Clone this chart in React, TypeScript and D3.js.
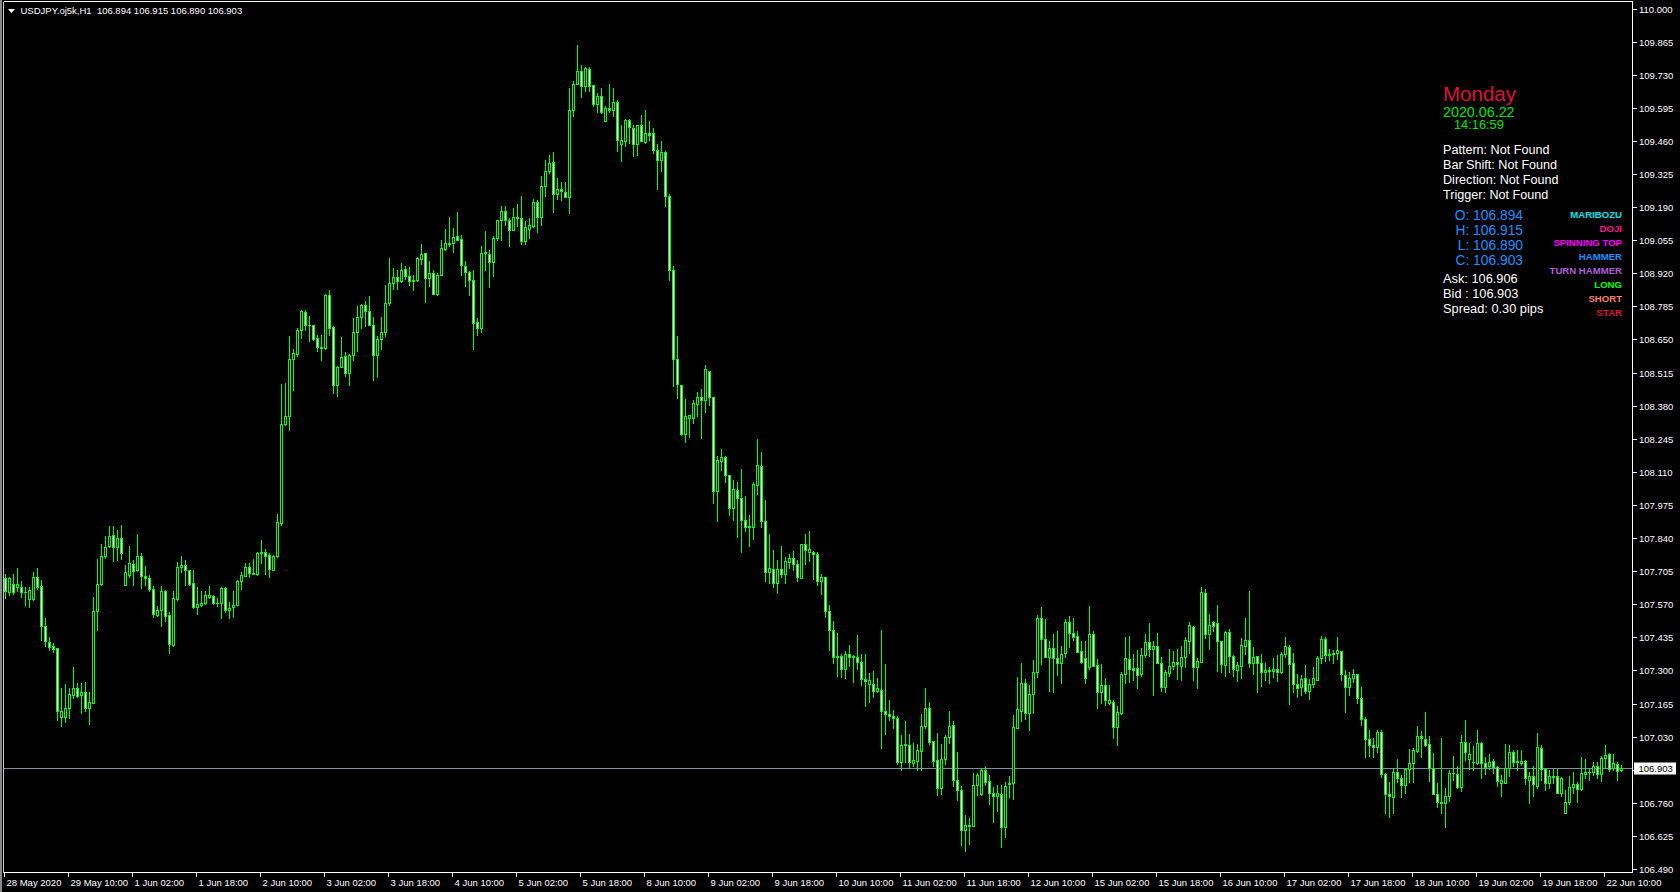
import React from 'react';
import * as d3 from 'd3';

// ---- Data: USDJPY H1 candles (28 May 2020 18:00 .. 22 Jun 2020 14:00) ----
const opens = [
107.677,107.618,107.653,107.642,107.642,107.620,107.591,107.592,107.681,107.645,
107.482,107.417,107.400,107.391,107.109,107.109,107.146,107.200,107.227,107.198,
107.211,107.146,107.169,107.542,107.652,107.765,107.806,107.851,107.803,107.840,
107.648,107.690,107.735,107.708,107.768,107.686,107.677,107.632,107.527,107.545,
107.625,107.527,107.402,107.591,107.720,107.730,107.709,107.656,107.557,107.568,
107.573,107.600,107.602,107.577,107.574,107.636,107.545,107.557,107.566,107.664,
107.687,107.721,107.697,107.694,107.781,107.783,107.772,107.711,107.765,107.901,
108.305,108.336,108.570,108.592,108.687,108.762,108.710,108.708,108.656,108.619,
108.615,108.833,108.701,108.463,108.537,108.581,108.513,108.585,108.679,108.742,
108.790,108.765,108.710,108.585,108.652,108.679,108.799,108.880,108.905,108.887,
108.938,108.908,108.894,108.891,108.979,109.003,108.901,108.921,108.835,108.911,
109.019,109.044,109.044,109.073,109.060,108.951,108.924,108.894,108.721,108.697,
109.003,109.000,108.965,109.064,109.136,109.175,109.139,109.095,109.150,109.146,
109.053,109.102,109.114,109.211,109.148,109.277,109.336,109.374,109.244,109.264,
109.252,109.230,109.584,109.690,109.747,109.683,109.755,109.686,109.611,109.645,
109.540,109.594,109.585,109.620,109.449,109.458,109.547,109.513,109.449,109.523,
109.454,109.492,109.492,109.424,109.381,109.416,109.237,108.932,108.570,108.464,
108.266,108.329,108.331,108.387,108.416,108.403,108.522,108.416,108.030,108.156,
108.171,108.098,107.963,108.036,108.005,107.915,107.890,107.886,108.056,108.133,
107.909,107.702,107.712,107.658,107.712,107.693,107.741,107.760,107.735,107.677,
107.816,107.783,107.783,107.776,107.664,107.681,107.542,107.465,107.355,107.359,
107.307,107.365,107.359,107.355,107.336,107.265,107.243,107.245,107.216,107.220,
107.133,107.124,107.114,107.104,106.925,106.994,106.994,106.921,106.931,106.973,
107.075,107.147,107.012,106.935,106.821,106.940,107.027,107.079,106.854,106.811,
106.651,106.671,106.667,106.834,106.797,106.892,106.848,106.800,106.786,106.795,
106.661,106.835,106.839,107.064,107.136,107.248,107.128,107.203,107.292,107.513,
107.427,107.356,107.391,107.350,107.332,107.370,107.497,107.452,107.441,107.380,
107.350,107.316,107.449,107.322,107.214,107.241,107.168,107.170,107.071,107.125,
107.286,107.346,107.310,107.308,107.284,107.363,107.415,107.386,107.400,107.332,
107.234,107.291,107.320,107.333,107.320,107.356,107.422,107.479,107.316,107.336,
107.615,107.447,107.496,107.492,107.420,107.322,107.456,107.360,107.302,107.320,
107.400,107.425,107.332,107.359,107.332,107.293,107.298,107.299,107.306,107.293,
107.367,107.395,107.329,107.244,107.231,107.268,107.218,107.244,107.261,107.350,
107.427,107.361,107.367,107.370,107.380,107.282,107.231,107.268,107.286,107.187,
107.101,107.019,106.996,106.987,107.050,106.878,106.795,106.785,106.887,106.860,
106.833,106.897,106.924,106.972,107.033,107.019,106.999,106.904,106.795,106.765,
106.761,106.788,106.880,106.876,106.826,107.007,106.938,106.925,106.921,107.003,
106.921,106.910,106.931,106.907,106.840,106.842,106.901,106.966,106.925,106.921,
106.931,106.853,106.870,106.830,106.982,106.897,106.842,106.869,106.869,106.799,
106.720,106.765,106.826,106.837,106.816,106.876,106.887,106.884,106.910,106.876,
106.942,106.959,106.901,106.918,106.894,
];

const highs = [
107.694,107.683,107.694,107.717,107.663,107.642,107.642,107.701,107.717,107.670,
107.513,107.438,107.411,107.391,107.227,107.245,107.227,107.316,107.248,107.248,
107.252,107.214,107.599,107.754,107.817,107.850,107.888,107.890,107.871,107.894,
107.731,107.806,107.751,107.856,107.779,107.727,107.690,107.643,107.563,107.645,
107.629,107.540,107.622,107.741,107.765,107.751,107.711,107.711,107.642,107.622,
107.626,107.645,107.606,107.595,107.640,107.642,107.578,107.625,107.670,107.700,
107.738,107.738,107.754,107.785,107.833,107.796,107.781,107.772,107.939,108.468,
108.472,108.666,108.611,108.697,108.772,108.772,108.744,108.710,108.670,108.670,
108.836,108.853,108.704,108.543,108.660,108.599,108.592,108.738,108.788,108.796,
108.805,108.826,108.741,108.663,108.741,108.874,108.983,108.942,108.932,108.962,
108.948,108.945,108.914,108.986,109.041,109.003,108.972,108.935,108.921,109.057,
109.101,109.150,109.105,109.169,109.078,108.971,108.928,108.932,108.737,109.033,
109.091,109.014,109.074,109.139,109.193,109.196,109.146,109.186,109.204,109.237,
109.132,109.146,109.223,109.220,109.318,109.384,109.404,109.415,109.309,109.291,
109.292,109.676,109.703,109.853,109.771,109.762,109.760,109.686,109.656,109.676,
109.604,109.694,109.676,109.626,109.526,109.550,109.550,109.523,109.526,109.567,
109.588,109.543,109.513,109.449,109.461,109.420,109.245,108.948,108.663,108.464,
108.406,108.341,108.403,108.435,108.449,108.545,108.522,108.416,108.175,108.204,
108.175,108.098,108.075,108.069,108.121,108.011,107.934,108.069,108.243,108.190,
107.996,107.857,107.793,107.751,107.808,107.761,107.776,107.789,107.751,107.816,
107.855,107.870,107.789,107.783,107.693,107.681,107.565,107.500,107.452,107.369,
107.378,107.403,107.361,107.446,107.365,107.365,107.288,107.297,107.268,107.465,
107.326,107.181,107.137,107.114,107.037,107.095,107.041,107.002,106.998,107.124,
107.230,107.172,107.012,107.045,106.998,107.037,107.133,107.095,106.969,106.829,
106.709,106.700,106.882,106.882,106.902,106.911,106.873,106.824,106.834,106.834,
106.844,106.869,107.118,107.275,107.329,107.264,107.241,107.343,107.527,107.557,
107.509,107.418,107.448,107.459,107.400,107.509,107.523,107.513,107.461,107.418,
107.418,107.561,107.461,107.346,107.325,107.271,107.241,107.180,107.155,107.295,
107.438,107.441,107.367,107.384,107.390,107.449,107.495,107.418,107.452,107.354,
107.302,107.386,107.380,107.386,107.400,107.438,107.497,107.482,107.350,107.639,
107.633,107.531,107.500,107.567,107.420,107.459,107.468,107.363,107.336,107.431,
107.513,107.624,107.395,107.359,107.367,107.332,107.313,107.350,107.363,107.377,
107.438,107.404,107.370,107.286,107.282,107.322,107.264,107.313,107.359,107.441,
107.438,107.386,107.384,107.438,107.380,107.302,107.295,107.306,107.286,107.231,
107.112,107.057,107.023,107.057,107.055,106.883,106.846,106.897,106.938,106.873,
106.901,106.978,106.982,107.074,107.053,107.132,107.033,106.965,106.840,107.026,
106.822,106.894,106.952,106.910,107.037,107.098,107.003,106.992,107.057,107.006,
106.946,106.958,106.938,106.910,106.874,107.000,106.996,106.976,106.976,106.976,
106.934,106.887,106.910,107.044,106.996,106.897,106.894,106.897,106.897,106.867,
106.812,106.870,106.887,106.846,106.946,106.938,106.901,106.928,106.925,106.951,
106.997,106.965,106.958,106.925,106.915,
];

const lows = [
107.595,107.609,107.613,107.622,107.599,107.568,107.557,107.588,107.633,107.425,
107.400,107.384,107.377,107.098,107.075,107.091,107.105,107.187,107.191,107.125,
107.133,107.080,107.166,107.463,107.650,107.757,107.803,107.745,107.751,107.754,
107.648,107.683,107.647,107.704,107.636,107.649,107.626,107.516,107.520,107.483,
107.502,107.373,107.400,107.588,107.701,107.649,107.649,107.554,107.530,107.561,
107.570,107.595,107.572,107.561,107.513,107.540,107.513,107.517,107.565,107.632,
107.686,107.681,107.694,107.688,107.738,107.694,107.681,107.708,107.762,107.894,
108.302,108.279,108.445,108.584,108.656,108.687,108.642,108.647,108.602,108.568,
108.612,108.670,108.433,108.421,108.537,108.502,108.465,108.565,108.601,108.696,
108.704,108.708,108.483,108.495,108.612,108.665,108.792,108.857,108.857,108.884,
108.897,108.873,108.850,108.887,108.959,108.801,108.869,108.835,108.833,108.911,
109.016,109.030,109.005,109.054,108.914,108.867,108.830,108.612,108.667,108.679,
108.935,108.863,108.910,109.055,109.055,109.118,109.030,109.095,109.114,109.041,
109.041,109.064,109.109,109.087,109.118,109.234,109.329,109.169,109.224,109.218,
109.230,109.166,109.561,109.690,109.638,109.665,109.665,109.601,109.577,109.574,
109.540,109.577,109.561,109.418,109.377,109.438,109.452,109.400,109.404,109.467,
109.452,109.465,109.411,109.265,109.336,109.196,108.891,108.459,108.411,108.262,
108.233,108.252,108.310,108.339,108.248,108.353,108.383,107.982,107.909,108.117,
108.069,107.934,107.915,107.843,107.784,107.870,107.809,107.838,108.021,107.886,
107.664,107.658,107.639,107.616,107.683,107.658,107.716,107.708,107.664,107.677,
107.735,107.747,107.674,107.650,107.612,107.519,107.384,107.330,107.278,107.272,
107.268,107.317,107.253,107.307,107.240,107.156,107.172,107.191,107.210,106.983,
107.041,107.099,107.066,106.917,106.892,106.925,106.902,106.912,106.892,106.892,
107.066,106.998,106.912,106.790,106.796,106.917,107.002,106.829,106.771,106.589,
106.565,106.594,106.667,106.790,106.790,106.834,106.757,106.680,106.728,106.578,
106.622,106.785,106.777,107.064,107.095,107.101,107.057,107.128,107.275,107.325,
107.357,107.218,107.214,107.282,107.250,107.354,107.397,107.424,107.377,107.332,
107.248,107.305,107.320,107.146,107.169,107.159,107.163,107.026,106.996,107.122,
107.248,107.254,107.259,107.227,107.278,107.354,107.357,107.200,107.332,107.218,
107.210,107.278,107.305,107.265,107.261,107.315,107.370,107.261,107.227,107.333,
107.431,107.388,107.459,107.299,107.295,107.277,107.295,107.278,107.255,107.268,
107.367,107.316,107.286,107.210,107.236,107.261,107.248,107.272,107.257,107.291,
107.354,107.163,107.214,107.191,107.200,107.207,107.184,107.234,107.259,107.332,
107.340,107.343,107.332,107.346,107.259,107.132,107.200,107.251,107.166,107.078,
106.948,106.951,106.948,106.969,106.864,106.720,106.701,106.717,106.846,106.785,
106.802,106.846,106.846,106.969,106.946,106.992,106.850,106.795,106.742,106.720,
106.663,106.769,106.853,106.822,106.810,106.935,106.897,106.894,106.918,106.863,
106.877,106.897,106.883,106.829,106.788,106.840,106.870,106.910,106.894,106.914,
106.837,106.761,106.788,106.819,106.853,106.812,106.819,106.840,106.799,106.788,
106.717,106.755,106.799,106.765,106.812,106.860,106.853,106.874,106.863,106.850,
106.908,106.891,106.894,106.853,106.890,
];

const closes = [
107.622,107.677,107.618,107.653,107.618,107.619,107.629,107.681,107.642,107.483,
107.418,107.397,107.388,107.136,107.136,107.146,107.205,107.227,107.196,107.211,
107.146,107.170,107.543,107.653,107.768,107.803,107.847,107.803,107.840,107.779,
107.701,107.738,107.706,107.768,107.686,107.675,107.632,107.530,107.547,107.625,
107.524,107.407,107.595,107.723,107.731,107.708,107.652,107.558,107.572,107.576,
107.608,107.608,107.577,107.574,107.636,107.545,107.553,107.567,107.666,107.690,
107.721,107.697,107.695,107.781,107.783,107.765,107.713,107.768,107.905,108.305,
108.339,108.572,108.595,108.690,108.765,108.710,108.710,108.653,108.619,108.614,
108.833,108.697,108.463,108.538,108.577,108.513,108.588,108.680,108.742,108.792,
108.765,108.708,108.585,108.652,108.680,108.799,108.880,108.905,108.887,108.935,
108.908,108.887,108.887,108.982,109.000,108.901,108.921,108.835,108.914,109.023,
109.044,109.041,109.068,109.057,108.954,108.924,108.891,108.717,108.697,109.003,
109.008,108.965,109.064,109.139,109.175,109.136,109.098,109.150,109.146,109.053,
109.109,109.118,109.211,109.148,109.277,109.336,109.370,109.244,109.264,109.254,
109.230,109.584,109.692,109.747,109.683,109.758,109.683,109.611,109.645,109.577,
109.594,109.585,109.620,109.463,109.465,109.547,109.516,109.449,109.523,109.458,
109.492,109.485,109.422,109.381,109.416,109.234,108.932,108.570,108.468,108.266,
108.339,108.341,108.391,108.416,108.403,108.528,108.416,108.030,108.160,108.171,
108.098,107.963,108.040,108.002,107.915,107.886,107.886,108.060,108.137,107.909,
107.702,107.716,107.658,107.712,107.693,107.745,107.760,107.735,107.683,107.816,
107.793,107.797,107.776,107.664,107.681,107.544,107.465,107.355,107.359,107.307,
107.365,107.355,107.355,107.336,107.265,107.257,107.259,107.218,107.230,107.133,
107.122,107.114,107.104,106.925,106.994,106.998,106.925,106.935,106.975,107.075,
107.147,107.008,106.931,106.819,106.940,107.027,107.075,106.854,106.811,106.651,
106.671,106.665,106.834,106.872,106.892,106.844,106.800,106.786,106.800,106.661,
106.830,106.839,107.068,107.142,107.248,107.128,107.203,107.292,107.513,107.427,
107.356,107.391,107.350,107.332,107.366,107.497,107.452,107.438,107.377,107.336,
107.271,107.449,107.320,107.214,107.241,107.180,107.180,107.071,107.129,107.286,
107.350,107.305,107.300,107.282,107.363,107.415,107.386,107.400,107.332,107.234,
107.293,107.318,107.333,107.325,107.356,107.425,107.486,107.316,107.339,107.619,
107.447,107.486,107.483,107.418,107.325,107.456,107.357,107.306,107.322,107.404,
107.425,107.332,107.354,107.332,107.295,107.303,107.303,107.306,107.293,107.367,
107.400,107.327,107.244,107.227,107.264,107.218,107.244,107.268,107.350,107.427,
107.361,107.367,107.370,107.384,107.284,107.231,107.268,107.286,107.187,107.101,
107.019,106.996,106.987,107.050,106.878,106.795,106.788,106.887,106.860,106.833,
106.897,106.924,106.976,107.033,107.023,106.996,106.904,106.795,106.762,106.761,
106.788,106.880,106.883,106.826,107.007,106.966,106.959,106.926,107.003,106.924,
106.907,106.925,106.907,106.850,106.853,106.901,106.966,106.925,106.931,106.931,
106.860,106.870,106.836,106.986,106.897,106.842,106.869,106.867,106.799,106.860,
106.765,106.826,106.837,106.816,106.880,106.887,106.884,106.910,106.876,106.942,
106.955,106.897,106.921,106.891,106.903,
];

const timeLabels = [
  '28 May 2020', '29 May 10:00', '1 Jun 02:00', '1 Jun 18:00', '2 Jun 10:00',
  '3 Jun 02:00', '3 Jun 18:00', '4 Jun 10:00', '5 Jun 02:00', '5 Jun 18:00',
  '8 Jun 10:00', '9 Jun 02:00', '9 Jun 18:00', '10 Jun 10:00', '11 Jun 02:00',
  '11 Jun 18:00', '12 Jun 10:00', '15 Jun 02:00', '15 Jun 18:00', '16 Jun 10:00',
  '17 Jun 02:00', '17 Jun 18:00', '18 Jun 10:00', '19 Jun 02:00', '19 Jun 18:00',
  '22 Jun 10:00',
];
const barsPerLabel = 16;

const priceTicks = [
  '110.000', '109.865', '109.730', '109.595', '109.460', '109.325', '109.190',
  '109.055', '108.920', '108.785', '108.650', '108.515', '108.380', '108.245',
  '108.110', '107.975', '107.840', '107.705', '107.570', '107.435', '107.300',
  '107.165', '107.030', '106.895', '106.760', '106.625', '106.490',
];
const hiddenTick = '106.895';

const symbolHeader = 'USDJPY.oj5k,H1  106.894 106.915 106.890 106.903';
const lastPrice = 106.903;

const infoLines = ['Pattern: Not Found', 'Bar Shift: Not Found', 'Direction: Not Found', 'Trigger: Not Found'];
const ohlcLines = ['O: 106.894', 'H: 106.915', 'L: 106.890', 'C: 106.903'];
const quoteLines = ['Ask: 106.906', 'Bid : 106.903', 'Spread: 0.30 pips'];
const patternNames = ['MARIBOZU', 'DOJI', 'SPINNING TOP', 'HAMMER', 'TURN HAMMER', 'LONG', 'SHORT', 'STAR'];
const patternColors = ['#00E5EE', '#FF1493', '#FF00FF', '#1E90FF', '#B060D8', '#00FF00', '#FA8072', '#DC143C'];

const W = 1680;
const H = 892;
const FRAME = { left: 3.5, top: 1.5, right: 1632.5, bottom: 872.5 };
const AXIS_FONT = '"Liberation Sans", Arial, sans-serif';

export default function App() {
  const n = closes.length;
  const x = d3.scaleLinear().domain([0, n - 1]).range([5.5, 5.5 + 4 * (n - 1)]);
  const y = d3.scaleLinear().domain([106.49, 110.0]).range([869, 8.5]);
  const lime = '#00FF00';
  const snap = (v: number) => Math.round(v) + 0.5;

  const candles = d3.range(n).map((i) => {
    const o = opens[i], c = closes[i], h = highs[i], l = lows[i];
    const cx = x(i);
    const yTop = snap(y(Math.max(o, c)));
    const yBot = snap(y(Math.min(o, c)));
    const bear = c < o;
    return (
      <g key={i}>
        <line x1={cx} x2={cx} y1={Math.round(y(h))} y2={Math.round(y(l)) + 1} stroke={lime} strokeWidth={1} />
        {yBot - yTop < 1 ? (
          <line x1={cx - 1.5} x2={cx + 1.5} y1={yTop} y2={yTop} stroke={lime} strokeWidth={1} />
        ) : (
          <rect x={cx - 1} y={yTop} width={2} height={yBot - yTop} fill={bear ? '#FFFFFF' : '#000000'} stroke={lime} strokeWidth={1} />
        )}
      </g>
    );
  });

  const yLast = snap(y(lastPrice));

  return (
    <svg width={W} height={H} style={{ position: 'fixed', left: 0, top: 0, background: '#000' }} xmlns="http://www.w3.org/2000/svg">
      <rect x={0} y={0} width={W} height={H} fill="#000" />
      <rect x={0} y={0} width={2} height={H} fill="#8a8a8a" />

      {/* bid line */}
      <line x1={FRAME.left} x2={FRAME.right} y1={yLast} y2={yLast} stroke="#7f8fa0" strokeWidth={1} />

      {/* candles */}
      <g shapeRendering="crispEdges">{candles}</g>

      {/* frame */}
      <g stroke="#FFFFFF" strokeWidth={1} shapeRendering="crispEdges" fill="none">
        <line x1={FRAME.left} x2={FRAME.right} y1={FRAME.top} y2={FRAME.top} />
        <line x1={FRAME.left} x2={FRAME.left} y1={FRAME.top} y2={FRAME.bottom} stroke="#c8c8c8" />
        <line x1={FRAME.right} x2={FRAME.right} y1={FRAME.top} y2={FRAME.bottom} />
        <line x1={FRAME.left} x2={FRAME.right} y1={FRAME.bottom} y2={FRAME.bottom} />
      </g>

      {/* price axis */}
      <g fontFamily={AXIS_FONT} fontSize={9.5} fill="#FFFFFF">
        {priceTicks.map((t) => {
          const yy = snap(y(+t));
          return (
            <g key={t}>
              <line x1={FRAME.right} x2={FRAME.right + 4} y1={yy} y2={yy} stroke="#FFFFFF" shapeRendering="crispEdges" />
              {t !== hiddenTick && <text x={1639} y={yy + 3.5}>{t}</text>}
            </g>
          );
        })}
      </g>

      {/* time axis */}
      <g fontFamily={AXIS_FONT} fontSize={9.5} fill="#FFFFFF">
        {timeLabels.map((t, k) => {
          const xx = Math.round(x(k * barsPerLabel) - 1.5) + 0.5;
          return (
            <g key={t}>
              <line x1={xx} x2={xx} y1={FRAME.bottom} y2={FRAME.bottom + 4} stroke="#FFFFFF" shapeRendering="crispEdges" />
              <text x={xx + 2} y={885.5}>{t}</text>
            </g>
          );
        })}
      </g>

      {/* last price marker */}
      <rect x={1634} y={yLast - 6} width={42} height={12} fill="#FFFFFF" />
      <text x={1638.5} y={yLast + 3.5} fontFamily={AXIS_FONT} fontSize={9.5} fill="#000">{lastPrice.toFixed(3)}</text>

      {/* header */}
      <path d="M8,9 L15,9 L11.5,13 Z" fill="#FFFFFF" />
      <text x={20.5} y={14} fontFamily={AXIS_FONT} fontSize={9.5} fill="#FFFFFF" style={{ whiteSpace: 'pre' }}>{symbolHeader}</text>

      {/* info panel */}
      <g fontFamily={AXIS_FONT}>
        <text x={1443} y={100.5} fontSize={20.5} fill="#DC143C">Monday</text>
        <text x={1443} y={116.7} fontSize={14.3} fill="#00E600">2020.06.22</text>
        <text x={1454} y={129} fontSize={12.8} fill="#00E600">14:16:59</text>
        {infoLines.map((t, k) => (
          <text key={t} x={1443} y={154 + 15 * k} fontSize={12.6} fill="#FFFFFF">{t}</text>
        ))}
        {ohlcLines.map((t, k) => (
          <text key={t} x={1523} y={220 + 15 * k} fontSize={13.8} fill="#1E90FF" textAnchor="end">{t}</text>
        ))}
        {quoteLines.map((t, k) => (
          <text key={t} x={1443} y={283 + 15 * k} fontSize={12.8} fill="#FFFFFF" style={{ whiteSpace: 'pre' }}>{t}</text>
        ))}
        {patternNames.map((t, k) => (
          <text key={t} x={1622} y={217.7 + 14 * k} fontSize={9.6} fontWeight="bold" fill={patternColors[k]} textAnchor="end">{t}</text>
        ))}
      </g>
    </svg>
  );
}
